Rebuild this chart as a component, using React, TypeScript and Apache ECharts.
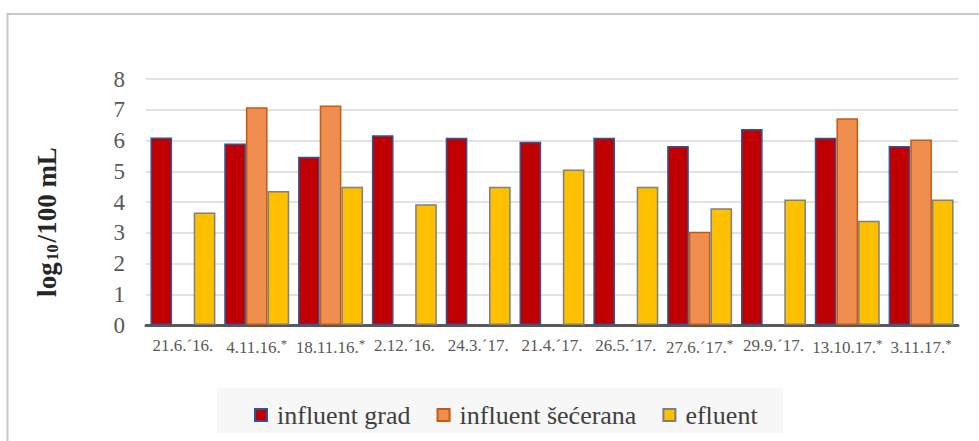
import React, { useEffect, useRef } from "react";
import * as echarts from "echarts";

const categories = [
  "21.6.´16.",
  "4.11.16.{s|*}",
  "18.11.16.{s|*}",
  "2.12.´16.",
  "24.3.´17.",
  "21.4.´17.",
  "26.5.´17.",
  "27.6.´17.{s|*}",
  "29.9.´17.",
  "13.10.17.{s|*}",
  "3.11.17.{s|*}",
];
const influentGrad = [6.1, 5.9, 5.47, 6.17, 6.09, 5.96, 6.09, 5.82, 6.37, 6.09, 5.82];
const influentSecerana = [null, 7.08, 7.14, null, null, null, null, 3.03, null, 6.72, 6.03];
const efluent = [3.66, 4.36, 4.5, 3.93, 4.5, 5.06, 4.5, 3.8, 4.08, 3.39, 4.08];
const seriesNames = ["influent grad", "influent šećerana", "efluent"];

const FONT = "Liberation Serif";

export default function App() {
  const ref = useRef<HTMLDivElement>(null);
  useEffect(() => {
    if (!ref.current) return;
    const chart = echarts.init(ref.current, null, { renderer: "svg" });
    chart.setOption({
      animation: false,
      backgroundColor: "#ffffff",
      textStyle: { fontFamily: FONT },
      grid: { left: 146, right: 21, top: 79, bottom: 116 },
      graphic: [
        {
          type: "rect",
          shape: { x: 7.5, y: 14, width: 1000, height: 460 },
          style: { fill: "none", stroke: "#c8c8c8", lineWidth: 2 },
          silent: true,
          z: -10,
        },
        {
          type: "rect",
          shape: { x: 217, y: 388, width: 566, height: 45 },
          style: { fill: "#f7f7f7" },
          silent: true,
          z: -5,
        },
        {
          type: "text",
          x: 47,
          y: 222,
          rotation: Math.PI / 2,
          style: {
            text: "{b|log}{sub|10}{b|/100 mL}",
            align: "center",
            verticalAlign: "middle",
            rich: {
              b: { fontFamily: FONT, fontWeight: "bold", fontSize: 27, fill: "#262626", lineHeight: 30 },
              sub: {
                fontFamily: FONT,
                fontWeight: "bold",
                fontSize: 16,
                fill: "#262626",
                lineHeight: 30,
                padding: [10, 2, 0, 2],
              },
            },
          },
        },
      ],
      legend: {
        data: seriesNames,
        left: 249,
        top: 397,
        itemWidth: 12,
        itemHeight: 12,
        itemGap: 26,
        icon: "rect",
        formatter: (n: string) => `{t|${n}}`,
        textStyle: {
          fontFamily: FONT,
          fontSize: 26,
          color: "#404040",
          rich: { t: { fontFamily: FONT, fontSize: 26, color: "#404040", padding: [0, 0, 0, 5] } },
        },
      },
      xAxis: {
        type: "category",
        data: categories,
        axisLine: { lineStyle: { color: "#595959", width: 3 } },
        axisTick: { show: false },
        axisLabel: {
          fontFamily: FONT,
          fontSize: 17,
          color: "#595959",
          margin: 12,
          interval: 0,
          formatter: (v: string) => `{n|${v}`.replace("{s|", "}{s|") + (v.includes("{s|") ? "" : "}"),
          rich: {
            n: { fontFamily: FONT, fontSize: 17, color: "#595959" },
            s: { fontFamily: FONT, fontSize: 13, color: "#595959", padding: [0, 0, 8, 0] },
          },
        },
      },
      yAxis: {
        type: "value",
        min: 0,
        max: 8,
        interval: 1,
        axisLine: { show: false },
        axisTick: { show: false },
        splitLine: { lineStyle: { color: "#d9d9d9", width: 1.5 } },
        axisLabel: {
          fontFamily: FONT,
          fontSize: 23,
          color: "#595959",
          margin: 21,
          formatter: (v: number) => `{y|${v}}`,
          rich: { y: { fontFamily: FONT, fontSize: 23, color: "#595959" } },
        },
      },
      series: [
        {
          name: seriesNames[0],
          type: "bar",
          data: influentGrad,
          barGap: "0%",
          barCategoryGap: "12%",
          itemStyle: { color: "#C00000", borderColor: "#2F5597", borderWidth: 1.5 },
        },
        {
          name: seriesNames[1],
          type: "bar",
          data: influentSecerana,
          barGap: "0%",
          barCategoryGap: "12%",
          itemStyle: { color: "#EF8E4F", borderColor: "#C55A11", borderWidth: 1.5 },
        },
        {
          name: seriesNames[2],
          type: "bar",
          data: efluent,
          barGap: "0%",
          barCategoryGap: "12%",
          itemStyle: { color: "#FFC000", borderColor: "#7F7F7F", borderWidth: 1.5 },
        },
      ],
    });
    return () => chart.dispose();
  }, []);
  return <div ref={ref} style={{ width: 979, height: 441, position: "absolute", left: 0, top: 0 }} />;
}
